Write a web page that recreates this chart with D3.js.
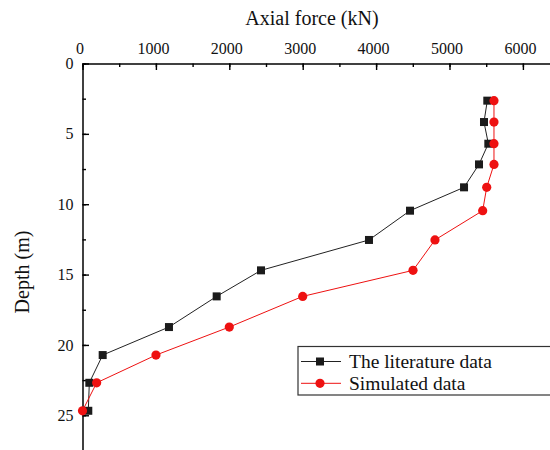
<!DOCTYPE html>
<html>
<head>
<meta charset="utf-8">
<script src="https://cdn.jsdelivr.net/npm/d3@7"></script>
<style>
  html, body { margin: 0; padding: 0; background: #ffffff; }
  svg { display: block; }
  svg text { font-family: "Liberation Serif", "Times New Roman", serif; }
</style>
</head>
<body>
<svg id="chart" width="550" height="450"></svg>
<script>
// Pile depth (m) for each measuring section
const depths = [2.64, 4.16, 5.70, 7.17, 8.80, 10.46, 12.54, 14.70, 16.55, 18.73, 20.72, 22.69, 24.68];
// Axial force (kN) along the pile
const literatureForce = [5515, 5470, 5529, 5402, 5198, 4462, 3903, 2432, 1828, 1178, 275, 93, 79];
const simulatedForce  = [5606, 5606, 5606, 5606, 5507, 5452, 4802, 4503, 3000, 2000, 1001, 193, 0];
const forceTicks = [0, 1000, 2000, 3000, 4000, 5000, 6000];
const depthTicks = [0, 5, 10, 15, 20, 25];
const seriesNames = ["The literature data", "Simulated data"];

const svg = d3.select("#chart");

const x = d3.scaleLinear().domain([0, 7000]).range([82.5, 596.3]);
const y = d3.scaleLinear().domain([0, 28]).range([63.5, 457.5]);

function styleAxis(g) {
  g.attr("font-family", null).attr("font-size", null);
  g.selectAll("line").attr("stroke", "#000").attr("stroke-width", 1.4);
  g.selectAll("text").attr("font-size", 16).attr("fill", "#111");
}

// Top axis (force), ticks pointing into the plot
const xMinor = d3.range(0, 7001, 500);
svg.append("g")
  .attr("transform", `translate(0,${y(0)})`)
  .call(d3.axisTop(x).tickValues(xMinor).tickSize(-3.5).tickFormat(""))
  .call(g => g.select(".domain").remove())
  .call(styleAxis);
svg.append("g")
  .attr("transform", `translate(0,${y(0)})`)
  .call(d3.axisTop(x).tickValues(forceTicks).tickSize(-6.5).tickSizeOuter(0).tickPadding(10).tickFormat(d3.format("d")))
  .call(g => g.select(".domain").attr("stroke", "#000").attr("stroke-width", 1.5))
  .call(styleAxis)
  .call(g => g.selectAll("text").attr("dx", -3));

// Left axis (depth), ticks pointing into the plot
const yMinor = d3.range(0, 28.01, 2.5);
svg.append("g")
  .attr("transform", `translate(${x(0)},0)`)
  .call(d3.axisLeft(y).tickValues(yMinor).tickSize(-3.5).tickFormat(""))
  .call(g => g.select(".domain").remove())
  .call(styleAxis);
svg.append("g")
  .attr("transform", `translate(${x(0)},0)`)
  .call(d3.axisLeft(y).tickValues(depthTicks).tickSize(-6.5).tickSizeOuter(0).tickPadding(9).tickFormat(d3.format("d")))
  .call(g => g.select(".domain").attr("stroke", "#000").attr("stroke-width", 1.5))
  .call(styleAxis);

// Axis titles
svg.append("text")
  .attr("x", 312).attr("y", 25)
  .attr("text-anchor", "middle")
  .attr("font-size", 20).attr("fill", "#111")
  .text("Axial force (kN)");
svg.append("text")
  .attr("transform", "translate(29,272) rotate(-90)")
  .attr("text-anchor", "middle")
  .attr("font-size", 20).attr("fill", "#111")
  .text("Depth (m)");

// Series
const litData = depths.map((d, i) => ({ depth: d, force: literatureForce[i] }));
const simData = depths.map((d, i) => ({ depth: d, force: simulatedForce[i] }));
const line = d3.line().x(d => x(d.force)).y(d => y(d.depth));

const black = "#1b1b1b";
const red = "#ee1111";

svg.append("path").datum(litData)
  .attr("d", line).attr("fill", "none").attr("stroke", "#222").attr("stroke-width", 1);
svg.append("path").datum(simData)
  .attr("d", line).attr("fill", "none").attr("stroke", red).attr("stroke-width", 1);

const sq = 8;
svg.append("g").selectAll("rect").data(litData).join("rect")
  .attr("x", d => x(d.force) - sq / 2).attr("y", d => y(d.depth) - sq / 2)
  .attr("width", sq).attr("height", sq).attr("fill", black);
svg.append("g").selectAll("circle").data(simData).join("circle")
  .attr("cx", d => x(d.force)).attr("cy", d => y(d.depth))
  .attr("r", 4.6).attr("fill", red);

// Legend
const legend = svg.append("g");
legend.append("rect")
  .attr("x", 298).attr("y", 346.5).attr("width", 270).attr("height", 48.5)
  .attr("fill", "#ffffff").attr("stroke", "#333").attr("stroke-width", 1.2);
const rows = [
  { name: seriesNames[0], color: "#222", y: 361.5, shape: "square", fill: black },
  { name: seriesNames[1], color: red, y: 383.3, shape: "circle", fill: red }
];
rows.forEach(r => {
  legend.append("line").attr("x1", 301).attr("x2", 341).attr("y1", r.y).attr("y2", r.y)
    .attr("stroke", r.color).attr("stroke-width", 1);
  if (r.shape === "square") {
    legend.append("rect").attr("x", 320 - sq / 2).attr("y", r.y - sq / 2)
      .attr("width", sq).attr("height", sq).attr("fill", r.fill);
  } else {
    legend.append("circle").attr("cx", 320).attr("cy", r.y).attr("r", 4.6).attr("fill", r.fill);
  }
  legend.append("text").attr("x", 349).attr("y", r.y).attr("dy", "0.33em")
    .attr("font-size", 19.5).attr("fill", "#111").text(r.name);
});
</script>
</body>
</html>
